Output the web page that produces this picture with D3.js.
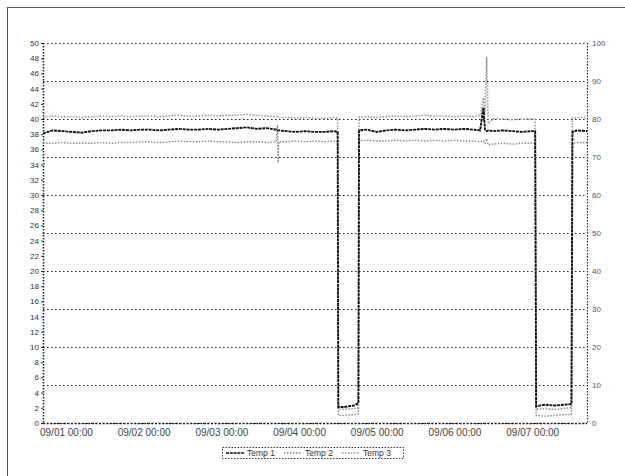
<!DOCTYPE html>
<html>
<head>
<meta charset="utf-8">
<script src="https://cdn.jsdelivr.net/npm/d3@7"></script>
<style>
  body { margin: 0; background: #fff; }
  svg { display: block; font-family: "Liberation Sans", Arial, sans-serif; }
</style>
</head>
<body>
<div id="chart"></div>
<script>
// time in hours from the first tick
const hours = [0,3,6,9,12,15,18,21,24,27,30,33,36,39,42,45,48,51,54,57,60,63,66,69,72,72.4,72.6,72.8,75,78,81,84,87,90,91,91.2,93,96,97.4,97.6,100,103,106,109,112,115,118,121,124,127,130,133,135,136,136.5,137,137.5,139,142,145,148,151,152,152.3,155,158,161,163.2,163.5,165,168];

const tempMain = [38.1,38.5,38.4,38.3,38.2,38.4,38.5,38.5,38.6,38.5,38.6,38.6,38.5,38.6,38.7,38.6,38.6,38.7,38.6,38.7,38.8,38.9,38.7,38.8,38.6,38.5,38.5,38.5,38.4,38.3,38.4,38.3,38.3,38.4,38.3,2.1,2.1,2.3,2.6,38.5,38.6,38.3,38.5,38.6,38.5,38.6,38.7,38.6,38.7,38.6,38.7,38.6,38.5,41.5,38.6,38.4,38.5,38.4,38.5,38.4,38.3,38.4,38.4,2.2,2.4,2.3,2.4,2.5,38.3,38.5,38.4];

const tempUpper = [40.2,40.4,40.3,40.3,40.2,40.3,40.4,40.3,40.4,40.3,40.4,40.4,40.3,40.4,40.5,40.4,40.4,40.5,40.4,40.5,40.5,40.6,40.5,40.4,40.3,40.3,40.2,40.2,40.2,40.1,40.2,40.1,40.1,40.2,40.1,1.8,1.8,1.9,2.0,40.2,40.3,40.2,40.3,40.4,40.3,40.4,40.5,40.4,40.4,40.3,40.4,40.3,40.5,42.8,40.6,48.2,39.4,40.0,40.0,39.9,40.0,40.0,40.0,1.8,1.9,1.8,1.9,2.0,40.1,40.2,40.2];

const tempLower = [36.8,36.8,36.9,36.8,36.8,36.8,36.9,36.8,36.9,36.9,37.0,37.0,36.9,37.0,37.1,37.0,37.0,37.1,37.0,37.0,36.9,37.0,37.0,36.9,37.0,39.2,34.3,37.0,37.0,37.1,37.0,37.1,37.0,37.1,37.0,1.0,1.0,1.1,1.2,37.1,37.2,37.1,37.1,37.2,37.1,37.2,37.1,37.2,37.1,37.2,37.1,37.1,37.0,37.2,36.8,37.4,36.6,36.7,36.8,36.7,36.8,36.8,36.8,1.0,0.9,1.0,1.1,1.1,36.8,36.9,36.9];

const xTickHours = [0,24,48,72,96,120,144,168];
const xTickLabels = ["09/01 00:00","09/02 00:00","09/03 00:00","09/04 00:00","09/05 00:00","09/06 00:00","09/07 00:00"];
const leftTicks = d3.range(0, 51, 2);
const rightTicks = d3.range(0, 101, 10);
const legendLabels = ["Temp 1", "Temp 2", "Temp 3"];

const width = 625, height = 476;
const margin = { top: 43, right: 38, bottom: 53, left: 43 };
const innerW = width - margin.left - margin.right;
const innerH = height - margin.top - margin.bottom;

const svg = d3.select("#chart").append("svg")
  .attr("width", width)
  .attr("height", height);

// outer frame (only top and left edges fall inside the picture)
svg.append("rect")
  .attr("x", 7.5).attr("y", 7.5)
  .attr("width", 700).attr("height", 600)
  .attr("fill", "none")
  .attr("stroke", "#555")
  .attr("stroke-width", 1);

const g = svg.append("g").attr("transform", `translate(${margin.left},${margin.top})`);

const x = d3.scaleLinear().domain([0, 168]).range([0, innerW]);
const yL = d3.scaleLinear().domain([0, 50]).range([innerH, 0]);
const yR = d3.scaleLinear().domain([0, 100]).range([innerH, 0]);

// gridlines follow the right axis
g.append("g")
  .selectAll("line")
  .data(rightTicks)
  .join("line")
  .attr("x1", 0).attr("x2", innerW)
  .attr("y1", d => Math.round(yR(d)) + 0.5)
  .attr("y2", d => Math.round(yR(d)) + 0.5)
  .attr("stroke", "#222")
  .attr("stroke-width", 1)
  .attr("stroke-dasharray", "1.5,2.5");

// plot border
[[0, 0, 0, innerH], [innerW, 0, innerW, innerH]].forEach(l => {
  g.append("line")
    .attr("x1", l[0] + 0.5).attr("y1", l[1])
    .attr("x2", l[2] + 0.5).attr("y2", l[3])
    .attr("stroke", "#222")
    .attr("stroke-width", l[0] === 0 ? 1.6 : 1.2)
    .attr("stroke-dasharray", "1.5,1.5");
});
g.append("line")
  .attr("x1", 0).attr("x2", innerW)
  .attr("y1", innerH + 0.5).attr("y2", innerH + 0.5)
  .attr("stroke", "#222")
  .attr("stroke-width", 1.6)
  .attr("stroke-dasharray", "2,1.5");

// left axis
const leftAxis = g.append("g")
  .call(d3.axisLeft(yL).tickValues(leftTicks).tickSize(2).tickPadding(2));
leftAxis.select(".domain").remove();
leftAxis.selectAll("line").attr("stroke", "#333");
leftAxis.selectAll("text").attr("font-size", 8).attr("fill", "#333");

// right axis
const rightAxis = g.append("g")
  .attr("transform", `translate(${innerW},0)`)
  .call(d3.axisRight(yR).tickValues(rightTicks).tickSize(0).tickPadding(5));
rightAxis.select(".domain").remove();
rightAxis.selectAll("text").attr("font-size", 8).attr("fill", "#555");

// bottom labels, placed at the start of each day
g.append("g")
  .selectAll("text")
  .data(xTickLabels)
  .join("text")
  .attr("x", (d, i) => x(xTickHours[i]) - 3)
  .attr("y", innerH + 13)
  .attr("font-size", 10)
  .attr("fill", "#444")
  .text(d => d);

const line = vals => d3.line()
  .x((d, i) => x(hours[i]))
  .y(d => yL(d))(vals);

g.append("path")
  .attr("d", line(tempUpper))
  .attr("fill", "none")
  .attr("stroke", "#999")
  .attr("stroke-width", 1.6)
  .attr("stroke-dasharray", "1.5,1.5");

g.append("path")
  .attr("d", line(tempLower))
  .attr("fill", "none")
  .attr("stroke", "#888")
  .attr("stroke-width", 1.4)
  .attr("stroke-dasharray", "1.5,1.5");

g.append("path")
  .attr("d", line(tempMain))
  .attr("fill", "none")
  .attr("stroke", "#111")
  .attr("stroke-width", 1.9)
  .attr("stroke-dasharray", "3,0.8");

// legend
const legend = svg.append("g").attr("transform", "translate(222,447)");
legend.append("rect")
  .attr("x", 0.5).attr("y", 0.5)
  .attr("width", 181).attr("height", 11)
  .attr("fill", "none")
  .attr("stroke", "#333")
  .attr("stroke-dasharray", "1.5,1.5");

const legendStyle = [
  { stroke: "#111", dash: "3,0.8", w: 1.6 },
  { stroke: "#888", dash: "1.5,1.5", w: 1.5 },
  { stroke: "#999", dash: "1.5,1.5", w: 1.5 }
];
const legendX = [4, 62, 120];
legendLabels.forEach((lab, i) => {
  legend.append("line")
    .attr("x1", legendX[i]).attr("x2", legendX[i] + 18)
    .attr("y1", 6).attr("y2", 6)
    .attr("stroke", legendStyle[i].stroke)
    .attr("stroke-width", legendStyle[i].w)
    .attr("stroke-dasharray", legendStyle[i].dash);
  legend.append("text")
    .attr("x", legendX[i] + 21)
    .attr("y", 9)
    .attr("font-size", 8.5)
    .attr("fill", "#333")
    .text(lab);
});
</script>
</body>
</html>
